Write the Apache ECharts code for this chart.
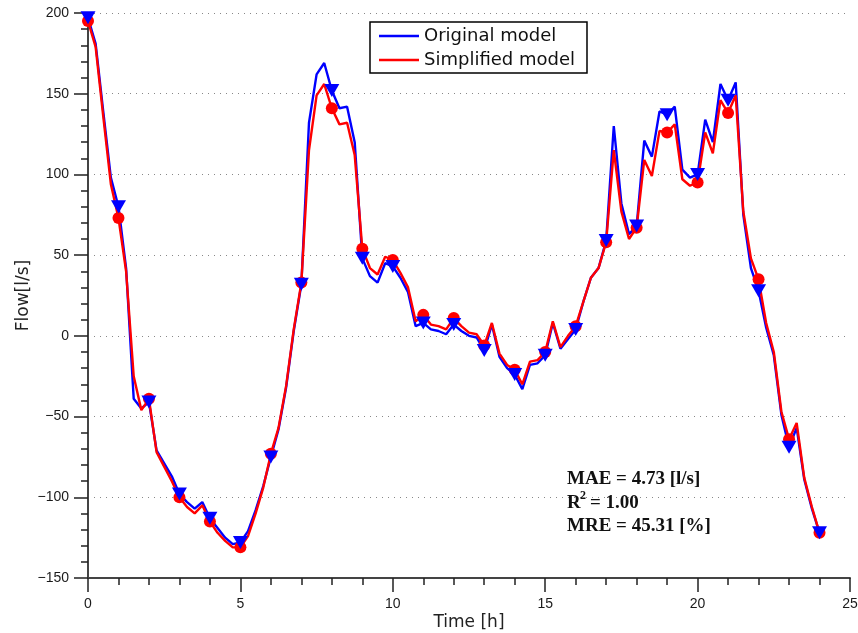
<!DOCTYPE html>
<html>
<head>
<meta charset="utf-8">
<script src="https://cdn.jsdelivr.net/npm/echarts@6/dist/echarts.min.js"></script>
<style>
  html, body { margin: 0; padding: 0; background: #fff; }
  #chart { width: 858px; height: 633px; }
</style>
</head>
<body>
<div id="chart"></div>
<script>
// Flow at 15-minute steps over one day (hours 0..24)
const stepHours = 0.25;

const original = [
  197, 181, 139, 98, 80, 42, -39, -45, -41, -71, -79, -87,
  -98, -103, -107, -103, -113, -119, -125, -129, -128, -121, -108, -93,
  -75, -58, -32, 3, 32, 132, 162, 169, 152, 141, 142, 120,
  48, 37, 33, 45, 43, 36, 27, 6, 8, 4, 3, 1,
  7, 3, 0, -1, -9, 7, -13, -20, -24, -33, -18, -17,
  -12, 8, -8, -2, 4, 21, 36, 42, 59, 130, 82, 63,
  68, 121, 111, 139, 137, 142, 103, 98, 100, 134, 120, 156,
  146, 157, 75, 42, 28, 5, -12, -49, -69, -57, -89, -107,
  -122
];

const simplified = [
  195, 179, 136, 94, 73, 40, -25, -46, -39, -72, -81, -90,
  -100, -106, -110, -105, -115, -122, -127, -131, -131, -124, -110, -94,
  -73, -57, -31, 4, 33, 115, 149, 156, 141, 131, 132, 112,
  54, 42, 38, 49, 47, 39, 30, 9, 13, 7, 6, 4,
  11, 6, 2, 1, -6, 8, -11, -18, -21, -30, -16, -15,
  -10, 9, -7, 0, 6, 21, 36, 42, 58, 115, 77, 60,
  67, 109, 99, 127, 126, 131, 97, 93, 95, 126, 113, 146,
  138, 149, 77, 48, 35, 8, -10, -47, -64, -54, -88, -106,
  -122
];

const seriesNames = ['Original model', 'Simplified model'];
const statLines = ['MAE = 4.73 [l/s]', '= 1.00', 'MRE = 45.31 [%]'];

const time = original.map((_, i) => i * stepHours);
const pairs = vals => vals.map((v, i) => [time[i], v]);
// markers sit on the whole hours only
const hourly = vals => vals.map((v, i) => [time[i], v]).filter((_, i) => i % 4 === 0);

const minus = v => String(v).replace('-', '\u2212');

const chart = echarts.init(document.getElementById('chart'), null, { renderer: 'canvas' });

const statFont = 'bold 19px "Liberation Serif", "Times New Roman", serif';

chart.setOption({
  animation: false,
  backgroundColor: '#fff',
  grid: { left: 88, right: 8, top: 13, bottom: 55, containLabel: false, outerBoundsMode: 'none' },
  legend: {
    data: seriesNames,
    orient: 'vertical',
    left: 370,
    top: 22,
    icon: 'rect',
    itemWidth: 40,
    itemHeight: 2.5,
    itemGap: 6,
    padding: [5, 12, 4, 9],
    borderColor: '#000',
    borderWidth: 1.5,
    borderRadius: 0,
    backgroundColor: '#fff',
    selectedMode: false,
    textStyle: { fontFamily: 'DejaVu Sans', fontSize: 18, color: '#111' }
  },
  xAxis: {
    type: 'value',
    min: 0,
    max: 25,
    interval: 5,
    name: 'Time [h]',
    nameLocation: 'middle',
    nameGap: 36,
    nameMoveOverlap: false,
    nameTextStyle: { fontFamily: 'DejaVu Sans', fontSize: 17, color: '#222' },
    axisLine: { show: true, onZero: false, lineStyle: { color: '#444', width: 2 } },
    axisTick: { show: true, inside: false, length: 14, lineStyle: { color: '#222', width: 1.5 } },
    minorTick: { show: true, splitNumber: 5, length: 7, lineStyle: { color: '#222', width: 1.5 } },
    axisLabel: { margin: 19, fontFamily: 'Liberation Sans', fontSize: 14, color: '#1a1a1a' },
    splitLine: { show: false }
  },
  yAxis: {
    type: 'value',
    min: -150,
    max: 200,
    interval: 50,
    name: 'Flow[l/s]',
    nameLocation: 'middle',
    nameGap: 56,
    nameRotate: 90,
    nameMoveOverlap: false,
    nameTextStyle: { fontFamily: 'DejaVu Sans', fontSize: 17, color: '#222' },
    axisLine: { show: true, onZero: false, lineStyle: { color: '#444', width: 2 } },
    axisTick: { show: true, inside: false, length: 14, lineStyle: { color: '#222', width: 1.5 } },
    minorTick: { show: true, splitNumber: 5, length: 7, lineStyle: { color: '#222', width: 1.5 } },
    axisLabel: { margin: 19, fontFamily: 'Liberation Sans', fontSize: 14, color: '#1a1a1a', formatter: minus },
    splitLine: { show: true, lineStyle: { type: [1, 5], color: '#888', width: 1 } }
  },
  series: [
    {
      name: seriesNames[0], type: 'line', data: pairs(original), showSymbol: false,
      lineStyle: { color: '#0000ff', width: 2.4 }, itemStyle: { color: '#0000ff' }, z: 2
    },
    {
      name: seriesNames[1], type: 'line', data: pairs(simplified), showSymbol: false,
      lineStyle: { color: '#ff0000', width: 2.4 }, itemStyle: { color: '#ff0000' }, z: 3
    },
    {
      name: 'simplified-hourly', type: 'scatter', data: hourly(simplified),
      symbol: 'circle', symbolSize: 12, itemStyle: { color: '#ff0000', opacity: 1 }, z: 4, clip: false
    },
    {
      name: 'original-hourly', type: 'scatter', data: hourly(original),
      symbol: 'triangle', symbolRotate: 180, symbolSize: [15, 13],
      itemStyle: { color: '#0000ff', opacity: 1 }, z: 5, clip: false
    }
  ],
  graphic: [
    { type: 'text', left: 567, top: 470, z: 10, style: { text: statLines[0], font: statFont, fill: '#111' } },
    { type: 'text', left: 567, top: 494, z: 10, style: { text: 'R', font: statFont, fill: '#111' } },
    { type: 'text', left: 580, top: 490, z: 10, style: { text: '2', font: 'bold 12px "Liberation Serif", serif', fill: '#111' } },
    { type: 'text', left: 590, top: 494, z: 10, style: { text: statLines[1], font: statFont, fill: '#111' } },
    { type: 'text', left: 567, top: 517, z: 10, style: { text: statLines[2], font: statFont, fill: '#111' } }
  ]
});
</script>
</body>
</html>
